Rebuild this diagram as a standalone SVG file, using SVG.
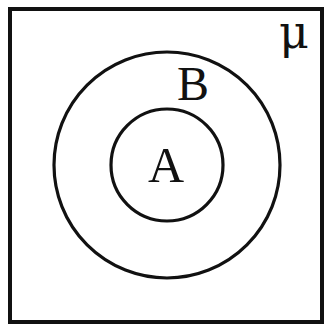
<svg xmlns="http://www.w3.org/2000/svg" width="325" height="331" viewBox="0 0 325 331">
<style>
.shape{fill:none;stroke:#111;}
.lbl{font-family:"Liberation Serif","DejaVu Serif",serif;fill:#111;text-anchor:middle;}
.mu{font-family:"DejaVu Serif","Liberation Serif",serif;fill:#111;text-anchor:middle;}
</style>
<rect width="325" height="331" fill="#fff"/>
<g id="universe">
<rect class="shape" x="10" y="9" width="312" height="313" stroke-width="4"/>
<text class="mu" x="294" y="48" font-size="46">μ</text>
</g>
<g id="B">
<circle class="shape" cx="167" cy="165" r="113" stroke-width="3.2"/>
<text class="lbl" x="193" y="100" font-size="48">B</text>
</g>
<g id="A">
<circle class="shape" cx="167" cy="165" r="56" stroke-width="3.2"/>
<text class="lbl" x="166" y="182" font-size="50">A</text>
</g>
<g id="connectors"/>
</svg>
